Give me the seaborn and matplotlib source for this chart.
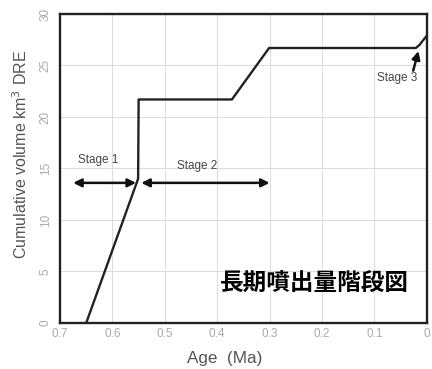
import pandas as pd
import seaborn as sns
import matplotlib.pyplot as plt

# Cumulative eruptive volume vs age
age = [0.65, 0.551, 0.55, 0.372, 0.301, 0.021, 0.014, 0.0]
volume = [0.0, 14.0, 21.7, 21.7, 26.7, 26.7, 27.0, 27.9]
x_ticks = [0.7, 0.6, 0.5, 0.4, 0.3, 0.2, 0.1, 0]
x_tick_labels = ["0.7", "0.6", "0.5", "0.4", "0.3", "0.2", "0.1", "0"]
y_ticks = [0, 5, 10, 15, 20, 25, 30]

# Stage arrows: (start age, end age, volume) / (start point, end point)
stage1_arrow = (0.675, 0.555, 13.6)
stage2_arrow = (0.545, 0.30, 13.6)
stage3_arrow = ((0.026, 24.5), (0.016, 26.4))

df = pd.DataFrame({"Age": age, "Volume": volume})

sns.set_style("whitegrid")
plt.rcParams['font.family'] = ['Liberation Sans', 'Noto Sans CJK JP', 'DejaVu Sans']

fig = plt.figure(figsize=(4.32, 3.69), dpi=100)
ax = fig.add_axes([0.139, 0.125, 0.849, 0.837])

sns.lineplot(x="Age", y="Volume", data=df, ax=ax, color="#222222", linewidth=1.7)

ax.set_xlim(0.7, 0)
ax.set_ylim(0, 30)
ax.set_xticks(x_ticks)
ax.set_xticklabels(x_tick_labels)
ax.set_yticks(y_ticks)
ax.tick_params(axis="both", labelsize=8.5, labelcolor="#aaaaaa", length=0, pad=4)
ax.tick_params(axis="y", labelrotation=90, pad=6)
for lbl in ax.get_yticklabels():
    lbl.set_va("center")
ax.grid(True, color="#dddddd", linewidth=0.8)
for s in ax.spines.values():
    s.set_color("#222222")
    s.set_linewidth(1.7)

ax.set_xlabel("Age  (Ma)", fontsize=12.3, color="#555555")
ax.set_ylabel("Cumulative volume km$^3$ DRE", fontsize=11.5, color="#555555")
ax.xaxis.set_label_coords(0.448, -0.09)
ax.yaxis.set_label_coords(-0.082, 0.544)

arrow_kw = dict(arrowstyle="<|-|>", color="#111111", lw=1.8, mutation_scale=12,
                shrinkA=0, shrinkB=0)
ax.annotate("", xy=(stage1_arrow[1], stage1_arrow[2]), xytext=(stage1_arrow[0], stage1_arrow[2]),
            arrowprops=arrow_kw)
ax.annotate("", xy=(stage2_arrow[1], stage2_arrow[2]), xytext=(stage2_arrow[0], stage2_arrow[2]),
            arrowprops=arrow_kw)
ax.annotate("", xy=stage3_arrow[1], xytext=stage3_arrow[0],
            arrowprops=dict(arrowstyle="-|>", color="#111111", lw=1.8, mutation_scale=12,
                            shrinkA=0, shrinkB=0))

ax.text(0.628, 15.8, "Stage 1", fontsize=8.5, color="#444444", ha="center", va="center")
ax.text(0.439, 15.2, "Stage 2", fontsize=8.5, color="#444444", ha="center", va="center")
ax.text(0.057, 23.8, "Stage 3", fontsize=8.5, color="#444444", ha="center", va="center")

ax.text(0.215, 3.9, "長期噴出量階段図", fontsize=17, fontweight="bold", color="black",
        ha="center", va="center", family=['Noto Sans CJK JP', 'DejaVu Sans'])

fig.savefig("out.png", dpi=100)
